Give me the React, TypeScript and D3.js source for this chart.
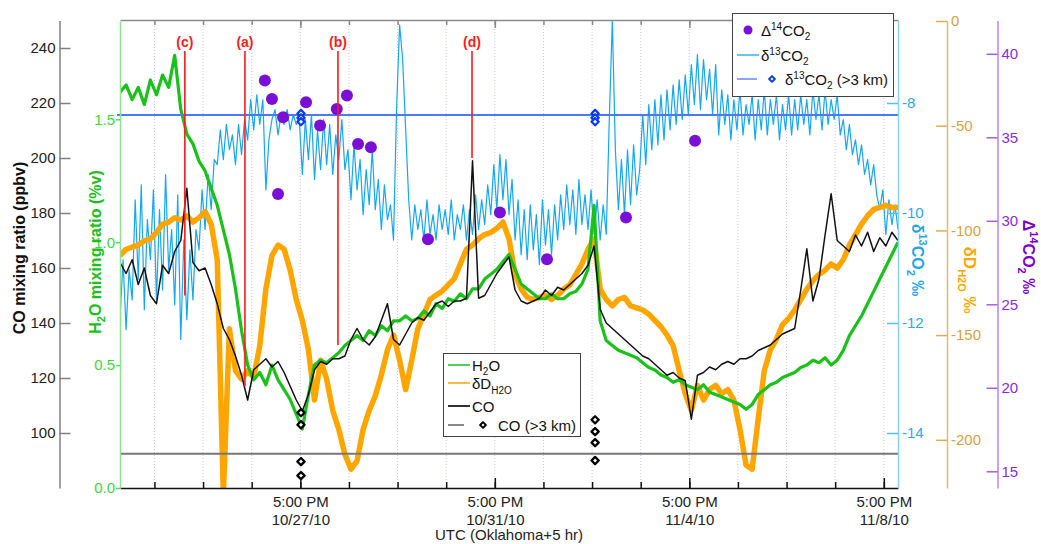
import React, { useEffect, useRef } from 'react';
import * as d3 from 'd3';

const W = 1041;
const H = 544;
const FONT = 'Arial, "Liberation Sans", Helvetica, sans-serif';

// in situ series, sampled from 10/24/10 00:00 UTC
const T0 = Date.UTC(2010, 9, 24);
const STEP_HOURS = 3; // h2o, dD, co
const D13C_STEP_HOURS = 1.5; // d13c

const h2o = [
  1.61, 1.64, 1.58, 1.63, 1.56, 1.66, 1.60, 1.68, 1.63, 1.76,
  1.54, 1.44, 1.40, 1.33, 1.29, 1.22, 1.15, 1.05, 0.95, 0.81,
  0.64, 0.50, 0.44, 0.47, 0.42, 0.50, 0.44, 0.40, 0.36, 0.30,
  0.24, 0.38, 0.50, 0.52, 0.51, 0.53, 0.55, 0.58, 0.60, 0.62,
  0.60, 0.64, 0.62, 0.66, 0.64, 0.68, 0.68, 0.70, 0.68, 0.69,
  0.72, 0.70, 0.75, 0.73, 0.77, 0.76, 0.79, 0.77, 0.81, 0.81,
  0.85, 0.87, 0.89, 0.92, 0.95, 0.89, 0.83, 0.81, 0.79, 0.77,
  0.77, 0.79, 0.77, 0.77, 0.79, 0.80, 0.83, 0.89, 1.15, 0.68,
  0.60, 0.58, 0.56, 0.55, 0.54, 0.53, 0.51, 0.49, 0.48, 0.46,
  0.45, 0.43, 0.44, 0.42, 0.41, 0.40, 0.42, 0.39, 0.38, 0.37,
  0.36, 0.35, 0.34, 0.32, 0.34, 0.38, 0.40, 0.42, 0.43, 0.45,
  0.46, 0.47, 0.49, 0.50, 0.52, 0.51, 0.53, 0.50, 0.52, 0.56,
  0.62, 0.66, 0.70, 0.75, 0.80, 0.85, 0.90, 0.95, 1.00,
];

const dD = [
  -112, -109, -108, -107, -105, -104, -101, -97, -96, -94,
  -95, -93, -96, -94, -91, -97, -114, -226, -147, -167,
  -171, -167, -170, -155, -128, -112, -107, -109, -119, -133,
  -143, -157, -181, -162, -171, -186, -195, -207, -214, -210,
  -195, -186, -179, -169, -157, -150, -162, -176, -162, -147,
  -140, -133, -131, -129, -126, -123, -116, -109, -107, -104,
  -102, -101, -99, -96, -104, -121, -128, -132, -133, -132,
  -131, -133, -131, -128, -126, -121, -116, -109, -104, -128,
  -133, -136, -133, -132, -136, -137, -138, -140, -143, -146,
  -150, -155, -167, -178, -186, -174, -181, -176, -174, -178,
  -176, -181, -195, -212, -214, -190, -167, -157, -152, -145,
  -142, -138, -133, -128, -124, -121, -119, -116, -118, -114,
  -107, -102, -97, -93, -90, -89, -88, -89, -89,
];

const co = [
  162, 158, 163, 154, 160, 150, 147, 161, 158, 166,
  170, 189, 162, 159, 160, 154, 147, 138, 134, 128,
  121, 112, 123, 125, 127, 124, 126, 122, 117, 112,
  108, 114, 123, 126, 125, 127, 127, 128, 134, 138,
  134, 132, 135, 141, 147, 134, 132, 136, 140, 142,
  141, 144, 147, 148, 146, 148, 148, 149, 199, 149,
  150, 154, 158, 161, 164, 152, 148, 147, 148, 149,
  152, 150, 153, 152, 154, 156, 158, 161, 168, 145,
  140, 138, 136, 134, 132, 130, 128, 127, 125, 123,
  121, 122, 120, 119, 105, 121, 122, 124, 123, 125,
  126, 125, 127, 127, 128, 130, 131, 132, 134, 136,
  137, 138, 152, 167, 148, 156, 172, 187, 170, 168,
  166, 172, 168, 173, 166, 171, 168, 173, 170,
];

const d13c = [
  -11.94, -10.85, -12.12, -11.03,
  -11.58, -9.76, -11.21, -9.49, -11.76, -10.12, -10.85, -9.58, -11.58, -9.94, -11.40, -9.30, -11.03, -10.30, -11.67, -9.67,
  -12.30, -10.49, -11.94, -10.67, -11.58, -10.30,
  -10.67, -9.58, -10.30, -9.30, -9.94, -9.03,
  -9.12, -8.49, -9.03, -8.39, -8.85, -8.58, -9.12, -8.39, -8.94, -8.30,
  -8.67, -7.94, -8.49, -7.85, -8.39, -7.94,
  -9.58, -8.67,
  -8.30, -8.12, -8.58, -8.21, -8.39, -8.12, -8.49, -8.21, -8.39, -8.30,
  -9.30, -8.30, -9.03, -8.21, -9.39, -8.49, -9.21, -8.30, -9.12, -8.39, -9.30, -8.58, -9.03, -8.30, -9.21,
  -8.85, -9.76, -8.76, -9.58, -9.03, -10.03, -9.21, -9.85, -8.85, -9.94, -9.39, -10.30, -9.49, -10.12,
  -9.85, -10.49, -8.12, -6.58,
  -7.21, -8.49, -9.76,
  -10.49, -9.85, -10.30, -9.94, -10.49, -9.76, -10.39, -10.03, -10.49, -9.85,
  -10.30, -9.94, -10.39, -9.76, -10.49, -10.03, -10.30, -9.85, -10.49, -9.94,
  -10.39, -9.67, -10.30, -9.76, -10.21, -9.49, -10.03,
  -9.12, -9.94, -8.94, -9.76, -9.03, -10.03, -9.39,
  -10.49, -9.76, -10.76, -9.94, -10.85, -9.85, -10.67, -10.03, -10.94, -9.76, -10.58, -9.94, -10.76, -9.85, -10.49, -9.67,
  -10.30, -9.49, -10.21, -9.58, -10.39, -9.39, -10.21, -9.67, -10.30, -9.58,
  -10.39, -9.76, -10.49, -9.85, -10.39, -8.30,
  -6.49,
  -8.85, -9.94, -9.03, -10.03, -8.85, -9.85, -8.76, -9.67,
  -9.21, -8.21, -9.12, -8.03, -8.85, -7.94, -8.76, -7.85, -8.67, -7.76, -8.49, -7.67, -8.39, -7.58, -8.30, -7.49,
  -8.21, -7.30, -8.03, -7.12, -8.12, -7.21, -7.94, -7.39, -8.21, -7.30,
  -8.58, -7.76, -8.39, -7.85, -8.67, -7.94, -8.49, -7.76, -8.58, -8.03, -8.39, -7.85, -8.67,
  -7.94, -8.49, -7.76, -8.58, -7.94, -8.39, -7.85, -8.67, -8.03, -8.49, -7.85, -8.58, -7.94,
  -8.49, -7.85, -8.39, -7.94, -8.58, -7.76, -8.30, -7.85, -8.49, -7.76, -8.39, -7.94, -8.30, -7.85,
  -8.58, -8.30, -8.85, -8.39, -8.94, -8.67, -9.12, -8.76, -9.30, -9.03, -9.49, -9.12, -9.67,
  -9.94, -9.58, -10.39, -9.76, -10.21, -9.85, -10.30,
];

// flask samples
const d14cTimes = [
  '2010-10-26T23:30Z', '2010-10-27T03:00Z', '2010-10-27T06:00Z', '2010-10-27T08:30Z',
  '2010-10-27T19:50Z', '2010-10-28T02:45Z', '2010-10-28T11:00Z', '2010-10-28T16:00Z',
  '2010-10-28T21:30Z', '2010-10-29T03:50Z', '2010-10-30T08:00Z', '2010-10-31T19:30Z',
  '2010-11-01T18:45Z', '2010-11-03T09:45Z', '2010-11-04T19:50Z',
];
const d14cValues = [
  38.4, 37.3, 31.6, 36.2, 37.1, 35.7, 36.7, 37.5, 34.6, 34.4, 28.9, 30.5, 27.7, 30.2, 34.8,
];

const highTimes = ['2010-10-27T17:20Z', '2010-11-02T18:30Z'];
const coHigh = [
  [107.4, 103.0, 89.6, 84.5],
  [104.8, 100.5, 96.5, 90.0],
];
const d13cHigh = [
  [-8.19, -8.27, -8.34],
  [-8.19, -8.27, -8.34],
];
const CO_HIGH_MEAN = 92.5;
const D13C_HIGH_MEAN = -8.22;

const events = [
  { label: '(c)', time: '2010-10-25T08:00Z', coEnd: 150 },
  { label: '(a)', time: '2010-10-26T13:40Z', coEnd: 117 },
  { label: '(b)', time: '2010-10-28T11:35Z', coEnd: 132 },
  { label: '(d)', time: '2010-10-31T05:45Z', coEnd: 200 },
];

const majorTickTimes = ['2010-10-27T17:00Z', '2010-10-31T17:00Z', '2010-11-04T17:00Z', '2010-11-08T17:00Z'];
const majorTickLabels = [
  ['5:00 PM', '10/27/10'],
  ['5:00 PM', '10/31/10'],
  ['5:00 PM', '11/4/10'],
  ['5:00 PM', '11/8/10'],
];
const coTicks = [100, 120, 140, 160, 180, 200, 220, 240];
const h2oTicks = [0, 0.5, 1.0, 1.5];
const d13cTicks = [-14, -12, -10, -8];
const dDTicks = [-200, -150, -100, -50, 0];
const d14cTicks = [15, 20, 25, 30, 35, 40];

// scales
const x = d3.scaleUtc()
  .domain([new Date(T0), new Date(Date.UTC(2010, 10, 9))])
  .range([120, 898]);
const yCO = d3.scaleLinear().domain([80, 250]).range([488, 20.5]);
const yH2O = d3.scaleLinear().domain([0, 1.9]).range([488, 21]);
const yD13 = d3.scaleLinear().domain([-15, -6.5]).range([488, 20.5]);
const yDD = d3.scaleLinear().domain([-223, 0]).range([488, 21]);
const yD14 = d3.scaleLinear().domain([14, 42]).range([488, 20.4]);

const dayTicks = d3.range(16).map(k => new Date(Date.UTC(2010, 9, 24, 17) + k * 864e5));
const majorDates = majorTickTimes.map(s => new Date(s));

const lineOf = (vals: number[], y: d3.ScaleLinear<number, number>, stepH: number) =>
  d3.line<number>()
    .x((_, i) => x(new Date(T0 + i * stepH * 3600e3)))
    .y(d => y(d))(vals) || '';

const diamond = d3.symbol().type(d3.symbolSquare).size(26)() || '';

const C = {
  green: '#19c219',
  orange: '#ffa500',
  blue: '#12a8f2',
  purple: '#7a10d6',
  red: '#ff1a1a',
  meanBlue: '#4a78ff',
};

function styleAxis(g: any, o: { domain: string; tick: string; text: string }) {
  g.attr('font-family', FONT).attr('font-size', 15);
  g.select('.domain').attr('stroke', o.domain).attr('stroke-width', 1.5);
  g.selectAll('.tick line').attr('stroke', o.tick).attr('stroke-width', 1.5);
  g.selectAll('.tick text').attr('fill', o.text);
}

export default function App() {
  const coRef = useRef<SVGGElement>(null);
  const h2oRef = useRef<SVGGElement>(null);
  const d13Ref = useRef<SVGGElement>(null);
  const dDRef = useRef<SVGGElement>(null);
  const d14Ref = useRef<SVGGElement>(null);
  const minorRef = useRef<SVGGElement>(null);
  const majorRef = useRef<SVGGElement>(null);
  const topRef = useRef<SVGGElement>(null);
  const topMajorRef = useRef<SVGGElement>(null);

  useEffect(() => {
    const fmt = (d: any) => String(d);

    const gCO = d3.select(coRef.current);
    gCO.call(d3.axisRight(yCO).tickValues(coTicks).tickSize(11).tickSizeOuter(0).tickFormat(fmt) as any);
    styleAxis(gCO, { domain: '#808080', tick: '#808080', text: '#222' });
    gCO.selectAll('.tick text').attr('x', -4).attr('text-anchor', 'end');

    const gH = d3.select(h2oRef.current);
    gH.call(d3.axisLeft(yH2O).tickValues(h2oTicks).tickSize(4).tickSizeOuter(0).tickPadding(1)
      .tickFormat(d3.format('.1f') as any) as any);
    styleAxis(gH, { domain: '#8ee48e', tick: '#5ad65a', text: '#3cd83c' });

    const right = [
      { ref: d13Ref, y: yD13, ticks: d13cTicks, domain: '#86d3f7', tick: '#55bff5', text: '#2aaaf0' },
      { ref: dDRef, y: yDD, ticks: dDTicks, domain: '#e4bb6c', tick: '#dcae55', text: '#d9a142' },
      { ref: d14Ref, y: yD14, ticks: d14cTicks, domain: '#b982f0', tick: '#a45ee8', text: '#8a2be2' },
    ];
    right.forEach(r => {
      const g = d3.select(r.ref.current);
      g.call(d3.axisLeft(r.y).tickValues(r.ticks).tickSize(11).tickSizeOuter(0).tickFormat(fmt) as any);
      styleAxis(g, r);
      g.selectAll('.tick text').attr('x', 4).attr('text-anchor', 'start');
    });

    const gMin = d3.select(minorRef.current);
    gMin.call(d3.axisBottom(x).tickValues(dayTicks).tickSizeInner(-6).tickSizeOuter(0).tickFormat(() => '') as any);
    styleAxis(gMin, { domain: '#111', tick: '#111', text: '#222' });

    const gMaj = d3.select(majorRef.current);
    gMaj.call(d3.axisBottom(x).tickValues(majorDates).tickSizeInner(-10).tickSizeOuter(0) as any);
    styleAxis(gMaj, { domain: '#111', tick: '#111', text: '#222' });
    gMaj.select('.domain').remove();
    gMaj.selectAll<SVGTextElement, Date>('.tick text').each(function (_, i) {
      const t = d3.select(this);
      t.text(null).attr('y', 0).attr('dy', null);
      majorTickLabels[i].forEach((s, k) => {
        t.append('tspan').attr('x', 0).attr('y', 19 + k * 17.5).text(s);
      });
    });

    const gTop = d3.select(topRef.current);
    gTop.call(d3.axisTop(x).tickValues(dayTicks).tickSizeInner(-5).tickSizeOuter(0).tickFormat(() => '') as any);
    styleAxis(gTop, { domain: '#8a8a8a', tick: '#8a8a8a', text: '#222' });
    const gTopMaj = d3.select(topMajorRef.current);
    gTopMaj.call(d3.axisTop(x).tickValues(majorDates).tickSizeInner(-8).tickSizeOuter(0).tickFormat(() => '') as any);
    styleAxis(gTopMaj, { domain: '#8a8a8a', tick: '#8a8a8a', text: '#222' });
    gTopMaj.select('.domain').remove();
  }, []);

  const sup = (s: string) => <tspan dy={-6} fontSize={10}>{s}</tspan>;

  return (
    <svg width={W} height={H} fontFamily={FONT}
      style={{ position: 'absolute', left: 0, top: 0, background: '#fff' }}>
      <defs>
        <clipPath id="plotClip">
          <rect x={120} y={20} width={778} height={468} />
        </clipPath>
      </defs>

      {/* day grid */}
      {dayTicks.map((d, i) => (
        <line key={i} x1={x(d)} x2={x(d)} y1={20} y2={488}
          stroke="#c9cde3" strokeWidth={1} strokeDasharray="1 2" />
      ))}

      <g clipPath="url(#plotClip)" fill="none" strokeLinejoin="round">
        <path d={lineOf(d13c, yD13, D13C_STEP_HOURS)} stroke={C.blue} strokeWidth={1.2} />
        <path d={lineOf(dD, yDD, STEP_HOURS)} stroke={C.orange} strokeWidth={5.5} />
        <path d={lineOf(h2o, yH2O, STEP_HOURS)} stroke={C.green} strokeWidth={3.2} />
        <path d={lineOf(co, yCO, STEP_HOURS)} stroke="#111" strokeWidth={1.5} />
      </g>

      {/* >3 km means */}
      <line x1={117} x2={898} y1={yD13(D13C_HIGH_MEAN)} y2={yD13(D13C_HIGH_MEAN)} stroke={C.meanBlue} strokeWidth={2} />
      <line x1={120} x2={898} y1={yCO(CO_HIGH_MEAN)} y2={yCO(CO_HIGH_MEAN)} stroke="#777" strokeWidth={2} />

      {/* >3 km samples */}
      {highTimes.map((t, i) => (
        <g key={i}>
          {coHigh[i].map((v, k) => (
            <path key={'c' + k} d={diamond} transform={`translate(${x(new Date(t))},${yCO(v)}) rotate(45)`}
              fill="#fff" stroke="#000" strokeWidth={2.3} strokeLinejoin="round" />
          ))}
          {d13cHigh[i].map((v, k) => (
            <path key={'b' + k} d={diamond} transform={`translate(${x(new Date(t))},${yD13(v)}) rotate(45)`}
              fill="#fff" stroke="#0a3cf0" strokeWidth={2.3} strokeLinejoin="round" />
          ))}
        </g>
      ))}

      {/* Δ14C flasks */}
      {d14cTimes.map((t, i) => (
        <circle key={i} cx={x(new Date(t))} cy={yD14(d14cValues[i])} r={6} fill={C.purple} />
      ))}

      {/* events */}
      {events.map(e => {
        const ex = x(new Date(e.time));
        return (
          <g key={e.label}>
            <line x1={ex} x2={ex} y1={51} y2={yCO(e.coEnd)} stroke={C.red} strokeWidth={1.6} />
            <text x={ex} y={47} textAnchor="middle" fontSize={14} fontWeight="bold" fill={C.red}>{e.label}</text>
          </g>
        );
      })}

      {/* axes */}
      <g ref={topRef} transform="translate(0,20)" />
      <g ref={topMajorRef} transform="translate(0,20)" />
      <g ref={minorRef} transform="translate(0,488)" />
      <g ref={majorRef} transform="translate(0,488)" />
      <g ref={coRef} transform="translate(59.5,0)" />
      <g ref={h2oRef} transform="translate(120,0)" />
      <g ref={d13Ref} transform="translate(898,0)" />
      <g ref={dDRef} transform="translate(947,0)" />
      <g ref={d14Ref} transform="translate(997.5,0)" />

      {/* axis titles */}
      <text transform="translate(19,248) rotate(-90)" dy="0.35em" textAnchor="middle"
        fontSize={16} fontWeight="bold" fill="#111">CO mixing ratio (ppbv)</text>
      <text transform="translate(95,252) rotate(-90)" dy="0.35em" textAnchor="middle"
        fontSize={16} fontWeight="bold" fill={C.green}>
        <tspan>H</tspan><tspan dy={4} fontSize={11}>2</tspan><tspan dy={-4}>O mixing ratio (%v)</tspan>
      </text>
      <text transform="translate(918,260) rotate(90)" dy="0.35em" textAnchor="middle"
        fontSize={16} fontWeight="bold" fill="#1aa7ec">
        <tspan>δ</tspan><tspan dy={-7} fontSize={11}>13</tspan><tspan dy={7}>CO</tspan>
        <tspan dy={5} fontSize={11}>2</tspan><tspan dy={-5}>{' ‰'}</tspan>
      </text>
      <text transform="translate(970,280) rotate(90)" dy="0.35em" textAnchor="middle"
        fontSize={17} fontWeight="bold" fill={C.orange}>
        <tspan>δD</tspan><tspan dy={6} fontSize={11}>H2O</tspan><tspan dy={-6}>{' ‰'}</tspan>
      </text>
      <text transform="translate(1029,257) rotate(90)" dy="0.35em" textAnchor="middle"
        fontSize={16} fontWeight="bold" fill="#7a00d0">
        <tspan>Δ</tspan><tspan dy={-7} fontSize={11}>14</tspan><tspan dy={7}>CO</tspan>
        <tspan dy={5} fontSize={11}>2</tspan><tspan dy={-5}>{' ‰'}</tspan>
      </text>
      <text x={509} y={540} textAnchor="middle" fontSize={15} fill="#222">UTC (Oklahoma+5 hr)</text>

      {/* legend: isotopes */}
      <g fontSize={15} fill="#111">
        <rect x={732.5} y={13.5} width={161} height={83} fill="#fff" stroke="#444" strokeWidth={1} />
        <circle cx={748} cy={30} r={4.5} fill={C.purple} />
        <text x={761} y={36}>
          <tspan>Δ</tspan>{sup('14')}<tspan dy={6}>CO</tspan>
          <tspan dy={4} fontSize={10}>2</tspan>
        </text>
        <line x1={737} x2={759} y1={55} y2={55} stroke={C.blue} strokeWidth={1.3} />
        <text x={761} y={61}>
          <tspan>δ</tspan>{sup('13')}<tspan dy={6}>CO</tspan>
          <tspan dy={4} fontSize={10}>2</tspan>
        </text>
        <line x1={737} x2={757} y1={79} y2={79} stroke={C.meanBlue} strokeWidth={1.3} />
        <path d={diamond} transform="translate(772,79) rotate(45) scale(0.8)" fill="#fff"
          stroke="#0a3cf0" strokeWidth={2.4} strokeLinejoin="round" />
        <text x={785} y={85}>
          <tspan>δ</tspan>{sup('13')}<tspan dy={6}>CO</tspan>
          <tspan dy={4} fontSize={10}>2</tspan><tspan dy={-4}>{' (>3 km)'}</tspan>
        </text>
      </g>

      {/* legend: in situ */}
      <g fontSize={15} fill="#111">
        <rect x={443.5} y={353.5} width={137} height={83} fill="#fff" stroke="#444" strokeWidth={1} />
        <line x1={448} x2={470} y1={365} y2={365} stroke={C.green} strokeWidth={1.5} />
        <text x={472} y={371}>
          <tspan>H</tspan><tspan dy={4} fontSize={10}>2</tspan><tspan dy={-4}>O</tspan>
        </text>
        <line x1={448} x2={470} y1={383} y2={383} stroke={C.orange} strokeWidth={1.5} />
        <text x={472} y={389}>
          <tspan>δD</tspan><tspan dy={5} fontSize={10}>H2O</tspan>
        </text>
        <line x1={448} x2={470} y1={406} y2={406} stroke="#333" strokeWidth={2} />
        <text x={472} y={412}>CO</text>
        <line x1={448} x2={464} y1={425} y2={425} stroke="#111" strokeWidth={1} />
        <path d={diamond} transform="translate(483,425) rotate(45) scale(0.8)" fill="#fff"
          stroke="#000" strokeWidth={2.4} strokeLinejoin="round" />
        <text x={498} y={431}>CO (&gt;3 km)</text>
      </g>
    </svg>
  );
}
